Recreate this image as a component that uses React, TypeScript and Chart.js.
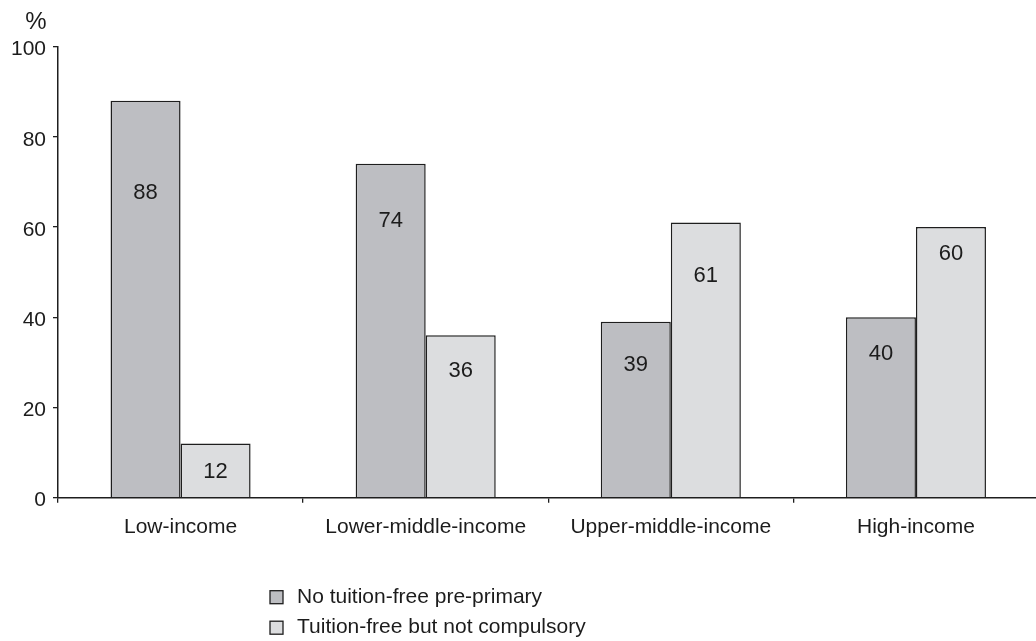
import React, { useEffect, useRef } from "react";
import { Chart, registerables } from "chart.js";

Chart.register(...registerables);

const categories = ["Low-income", "Lower-middle-income", "Upper-middle-income", "High-income"];
const seriesNames = ["No tuition-free pre-primary", "Tuition-free but not compulsory"];
const noTuitionFree = [88, 74, 39, 40];
const tuitionFreeNotCompulsory = [12, 36, 61, 60];
const yTicks = [0, 20, 40, 60, 80, 100];

const FONT = "'Liberation Sans', Arial, sans-serif";
const TEXT = "#1c1c1c";
const DARK = "#bdbec2";
const LIGHT = "#dcdddf";
const EDGE = "#1e1e1e";

// placement of the value labels inside the bars, in axis units (style only)
const labelPlacement = [
  [67.6, 61.4, 29.5, 31.8],
  [5.6, 28.1, 49.2, 54.1],
];

const overlayPlugin = {
  id: "overlay",
  afterDatasetsDraw(chart: any) {
    const { ctx, scales, chartArea } = chart;
    const y = scales.y;
    ctx.save();
    // value labels
    ctx.fillStyle = TEXT;
    ctx.font = `22px ${FONT}`;
    ctx.textAlign = "center";
    ctx.textBaseline = "middle";
    chart.data.datasets.forEach((ds: any, di: number) => {
      const meta = chart.getDatasetMeta(di);
      meta.data.forEach((bar: any, i: number) => {
        ctx.fillText(String(ds.data[i]), bar.x, y.getPixelForValue(labelPlacement[di][i]));
      });
    });
    // unit label
    ctx.font = `24px ${FONT}`;
    ctx.fillText("%", chartArea.left - 22, chartArea.top - 24);
    // legend
    ctx.font = `21px ${FONT}`;
    ctx.textAlign = "left";
    const lx = chartArea.left + 212;
    chart.data.datasets.forEach((ds: any, di: number) => {
      const cy = chartArea.bottom + 99.5 + di * 30.5;
      ctx.fillStyle = ds.backgroundColor;
      ctx.fillRect(lx, cy - 6.5, 13, 13);
      ctx.strokeStyle = EDGE;
      ctx.lineWidth = 1.3;
      ctx.strokeRect(lx, cy - 6.5, 13, 13);
      ctx.fillStyle = TEXT;
      ctx.fillText(ds.label, lx + 27, cy);
    });
    ctx.restore();
  },
};

export default function App() {
  const ref = useRef<HTMLCanvasElement | null>(null);
  useEffect(() => {
    if (!ref.current) return;
    const chart = new Chart(ref.current, {
      type: "bar",
      data: {
        labels: categories,
        datasets: [
          {
            label: seriesNames[0],
            data: noTuitionFree,
            backgroundColor: DARK,
            borderColor: EDGE,
            borderWidth: 1.5,
            categoryPercentage: 0.5714,
            barPercentage: 1,
          },
          {
            label: seriesNames[1],
            data: tuitionFreeNotCompulsory,
            backgroundColor: LIGHT,
            borderColor: EDGE,
            borderWidth: 1.5,
            categoryPercentage: 0.5714,
            barPercentage: 1,
          },
        ],
      },
      options: {
        responsive: false,
        animation: false,
        layout: { padding: { top: 46.5, right: 1.5, left: 0, bottom: 0 } },
        plugins: { legend: { display: false }, tooltip: { enabled: false } },
        scales: {
          x: {
            afterFit(scale: any) {
              scale.height = 143.3;
            },
            grid: {
              offset: true,
              drawOnChartArea: false,
              drawTicks: true,
              tickLength: 5,
              color: EDGE,
              lineWidth: 1.3,
            },
            border: { display: true, color: EDGE, width: 1.5 },
            ticks: { color: TEXT, font: { family: FONT, size: 21 }, padding: 12 },
          },
          y: {
            min: 0,
            max: 100,
            afterFit(scale: any) {
              scale.width = 58;
            },
            afterBuildTicks(scale: any) {
              scale.ticks = yTicks.map((v) => ({ value: v }));
            },
            grid: {
              drawOnChartArea: false,
              drawTicks: true,
              tickLength: 5,
              color: EDGE,
              lineWidth: 1.3,
            },
            border: { display: true, color: EDGE, width: 1.5 },
            ticks: { color: TEXT, font: { family: FONT, size: 21 }, padding: 7, labelOffset: 3 },
          },
        },
      },
      plugins: [overlayPlugin],
    });
    return () => chart.destroy();
  }, []);
  return (
    <div style={{ position: "fixed", left: 0, top: 0, width: 1036, height: 641, overflow: "hidden", background: "#fff" }}>
      <canvas ref={ref} width={1040} height={641} style={{ display: "block" }} />
    </div>
  );
}
